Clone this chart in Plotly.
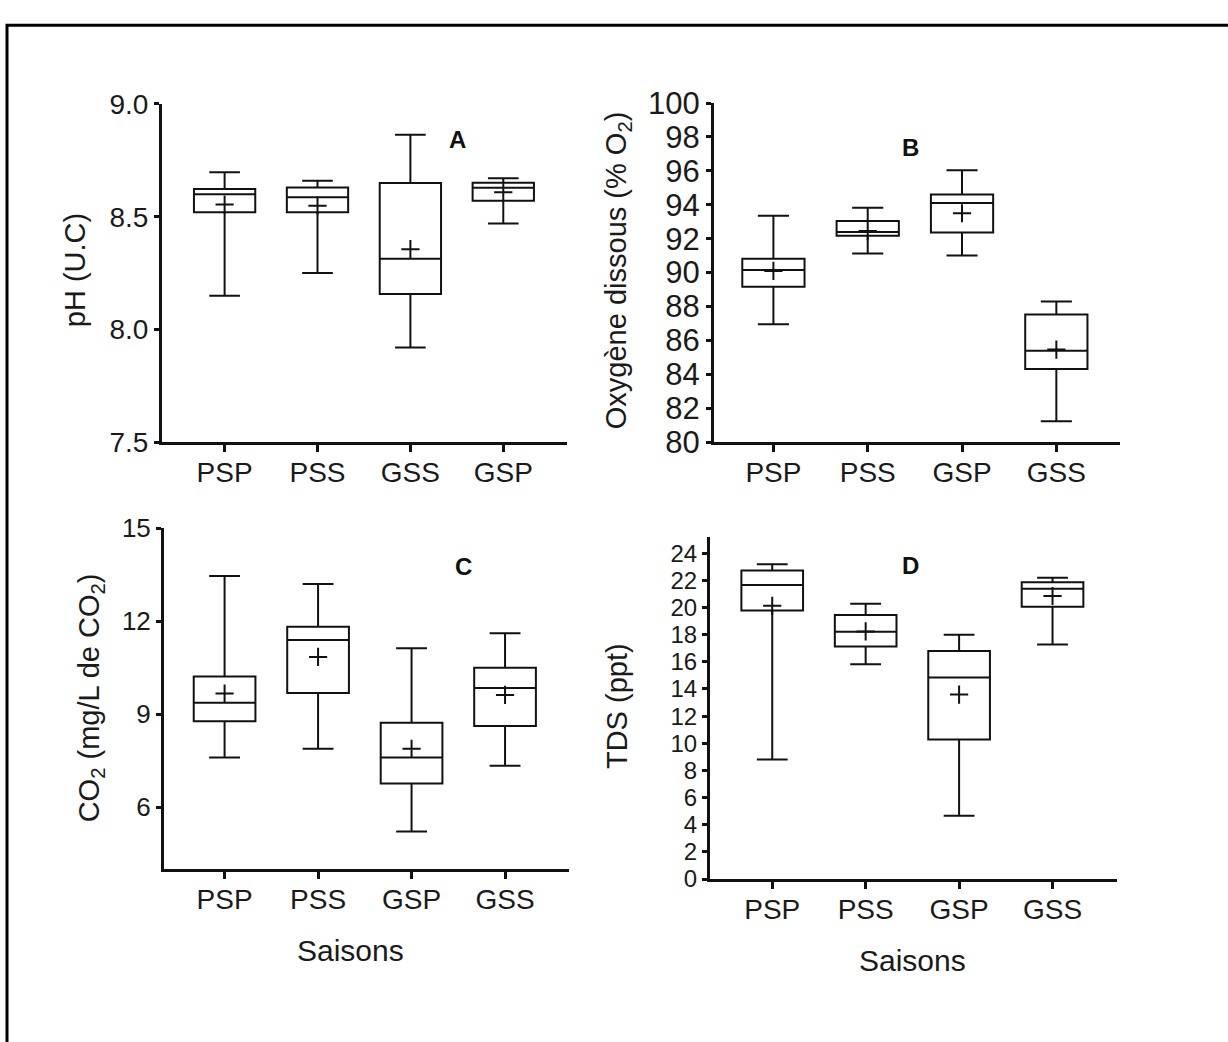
import plotly.graph_objects as go

W, H = 1228, 1042

# --- Panel A: pH ---------------------------------------------------------
seasons_ph = ["PSP", "PSS", "GSS", "GSP"]
ph_low = [8.15, 8.25, 7.92, 8.47]
ph_q1 = [8.52, 8.52, 8.157, 8.571]
ph_med = [8.60, 8.586, 8.314, 8.629]
ph_q3 = [8.623, 8.63, 8.65, 8.651]
ph_high = [8.697, 8.66, 8.863, 8.671]
ph_mean = [8.554, 8.549, 8.356, 8.609]

# --- Panel B: dissolved oxygen -------------------------------------------
seasons = ["PSP", "PSS", "GSP", "GSS"]
o2_low = [86.96, 91.13, 91.01, 81.23]
o2_q1 = [89.16, 92.17, 92.36, 84.32]
o2_med = [90.16, 92.40, 94.10, 85.40]
o2_q3 = [90.82, 93.04, 94.60, 87.53]
o2_high = [93.35, 93.82, 96.04, 88.30]
o2_mean = [90.10, 92.45, 93.50, 85.46]

# --- Panel C: CO2 --------------------------------------------------------
co2_low = [7.61, 7.89, 5.22, 7.34]
co2_q1 = [8.78, 9.69, 6.77, 8.625]
co2_med = [9.375, 11.40, 7.61, 9.85]
co2_q3 = [10.22, 11.82, 8.73, 10.50]
co2_high = [13.46, 13.20, 11.13, 11.61]
co2_mean = [9.67, 10.85, 7.89, 9.625]

# --- Panel D: TDS --------------------------------------------------------
tds_low = [8.80, 15.82, 4.67, 17.27]
tds_q1 = [19.78, 17.12, 10.27, 20.06]
tds_med = [21.65, 18.21, 14.85, 21.39]
tds_q3 = [22.72, 19.45, 16.79, 21.87]
tds_high = [23.19, 20.28, 18.00, 22.20]
tds_mean = [20.13, 18.24, 13.59, 20.85]

ph_ticks = [7.5, 8.0, 8.5, 9.0]
o2_ticks = list(range(80, 101, 2))
co2_ticks = [6, 9, 12, 15]
tds_ticks = list(range(0, 25, 2))

FONT = "Liberation Sans, Arial, sans-serif"
INK = "#111111"
TXT = "#1a1a1a"

# pixel frame of each panel: left, right, top, bottom, x range, y range
panels = [
    dict(cats=seasons_ph, low=ph_low, q1=ph_q1, med=ph_med, q3=ph_q3, high=ph_high, mean=ph_mean,
         box=(162, 567, 90, 440), xr=[-0.674, 3.686], yr=[7.5, 9.0],
         ticks=ph_ticks, fmt=".1f", tfs=28, letter="A", lpos=(457, 111)),
    dict(cats=seasons, low=o2_low, q1=o2_q1, med=o2_med, q3=o2_q3, high=o2_high, mean=o2_mean,
         box=(714, 1120, 89, 440), xr=[-0.63, 3.675], yr=[80, 100],
         ticks=o2_ticks, fmt="d", tfs=31, letter="B", lpos=(921, 119)),
    dict(cats=seasons, low=co2_low, q1=co2_q1, med=co2_med, q3=co2_q3, high=co2_high, mean=co2_mean,
         box=(164, 569, 529, 882), xr=[-0.648, 3.684], yr=[4, 15],
         ticks=co2_ticks, fmt="d", tfs=26, letter="C", lpos=(463, 569)),
    dict(cats=seasons, low=tds_low, q1=tds_q1, med=tds_med, q3=tds_q3, high=tds_high, mean=tds_mean,
         box=(710, 1117, 538, 892), xr=[-0.666, 3.69], yr=[0, 25.2],
         ticks=tds_ticks, fmt="d", tfs=24, letter="D", lpos=(921, 568)),
]

fig = go.Figure()
annotations = []

for i, p in enumerate(panels, start=1):
    sfx = "" if i == 1 else str(i)
    xa, ya = "x" + sfx, "y" + sfx
    left, right, top, bottom = p["box"]

    fig.add_trace(go.Box(
        x=p["cats"], q1=p["q1"], median=p["med"], q3=p["q3"],
        lowerfence=p["low"], upperfence=p["high"],
        width=0.66, whiskerwidth=0.5,
        fillcolor="rgba(0,0,0,0)", line=dict(color=INK, width=2),
        boxpoints=False, showlegend=False, xaxis=xa, yaxis=ya,
    ))
    fig.add_trace(go.Scatter(
        x=p["cats"], y=p["mean"], mode="markers",
        marker=dict(symbol="cross-thin", size=13, line=dict(color=INK, width=2)),
        showlegend=False, xaxis=xa, yaxis=ya,
    ))

    fig.layout["xaxis" + sfx] = dict(
        domain=[left / W, right / W], anchor=ya, type="category",
        categoryorder="array", categoryarray=p["cats"], range=p["xr"],
        showline=True, linecolor=INK, linewidth=3, ticks="outside", ticklen=7,
        tickwidth=2.5, tickcolor=INK, showgrid=False, zeroline=False,
        ticklabelstandoff=-4,
        tickfont=dict(family=FONT, size=28, color=TXT),
    )
    fig.layout["yaxis" + sfx] = dict(
        domain=[1 - bottom / H, 1 - top / H], anchor=xa, range=p["yr"],
        tickvals=p["ticks"], tickformat=p["fmt"],
        showline=True, linecolor=INK, linewidth=3, ticks="outside", ticklen=5,
        tickwidth=2.5, tickcolor=INK, showgrid=False, zeroline=False,
        tickfont=dict(family=FONT, size=p["tfs"], color=TXT),
    )
    lx, ly = p["lpos"]
    annotations.append(dict(
        text="<b>" + p["letter"] + "</b>", x=lx / W, y=1 - ly / H,
        xref="paper", yref="paper", showarrow=False,
        font=dict(family=FONT, size=24, color=INK),
    ))

# axis titles
titles = [
    ("pH (U.C)", 75, 262, -90, 29),
    ("Oxygène dissous (% O<sub>2</sub>)", 618, 262, -90, 29),
    ("CO<sub>2</sub> (mg/L de CO<sub>2</sub>)", 91, 705, -90, 29),
    ("TDS (ppt)", 617, 713, -90, 29),
    ("Saisons", 350, 966, 0, 30),
    ("Saisons", 912, 976, 0, 30),
]
for txt, x, y, ang, fs in titles:
    annotations.append(dict(
        text=txt, x=x / W, y=1 - y / H, xref="paper", yref="paper",
        showarrow=False, textangle=ang, xanchor="center", yanchor="middle",
        font=dict(family=FONT, size=fs, color=TXT),
    ))

fig.update_layout(
    width=W, height=H, margin=dict(l=0, r=0, t=0, b=0),
    paper_bgcolor="white", plot_bgcolor="white",
    annotations=annotations,
    shapes=[dict(type="rect", xref="paper", yref="paper",
                 x0=7 / W, x1=1.02, y0=-0.02, y1=1 - 8.5 / H,
                 line=dict(color="black", width=3))],
)

fig.write_html("out.html")
